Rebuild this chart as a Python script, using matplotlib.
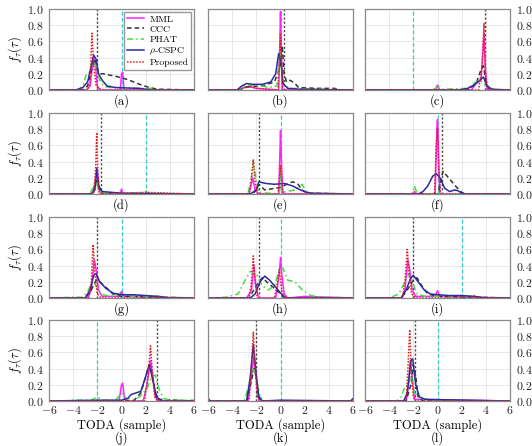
import matplotlib
matplotlib.use("Agg")
import matplotlib.pyplot as plt

plt.rcParams['font.family'] = 'serif'
plt.rcParams['font.serif'] = ['cmr10']
plt.rcParams['mathtext.fontset'] = 'cm'
plt.rcParams['axes.formatter.use_mathtext'] = True

# dados: pares (TODA, densidade) por metodo e painel
a_mml = [(-6,0),(-2.9,0),(-2.6,0.05),(-2.4,0.3),(-2.3,0.4),(-2.15,0.3),(-2.0,0.05),(-1.8,0),(-0.1,0),(0.0,0.2),(0.1,0.22),(0.2,0.02),(0.3,0),(6,0)]
a_ccc = [(-6,0),(-3.2,0),(-2.8,0.05),(-2.4,0.3),(-2.2,0.38),(-2.0,0.25),(-1.8,0.2),(-1.5,0.2),(-0.5,0.17),(0.5,0.13),(1.5,0.07),(2.3,0.03),(3,0.01),(6,0)]
a_phat = [(-6,0),(-3.6,0),(-3.2,0.05),(-2.9,0.2),(-2.6,0.22),(-2.35,0.38),(-2.15,0.3),(-1.9,0.15),(-1.5,0.05),(-1,0.03),(0,0.03),(1,0.02),(2.5,0.02),(3.0,0),(6,0)]
a_cspc = [(-6,0),(-3.8,0),(-3.2,0.03),(-2.8,0.1),(-2.5,0.3),(-2.3,0.43),(-2.1,0.38),(-1.9,0.2),(-1.6,0.12),(-1.2,0.05),(-0.5,0.03),(1.5,0.02),(2.5,0),(6,0)]
a_prop = [(-6,0),(-2.8,0),(-2.6,0.1),(-2.45,0.7),(-2.3,0.3),(-2.1,0.05),(-1.9,0.02),(-1.5,0),(6,0)]

b_mml = [(-6,0),(-3.5,0),(-3,0.03),(-2.5,0.04),(-2,0.02),(-0.15,0),(-0.05,0.6),(0.0,0.97),(0.05,0.6),(0.15,0),(6,0)]
b_ccc = [(-6,0),(-3.5,0),(-2.8,0.04),(-1.5,0.05),(-0.5,0.1),(0,0.3),(0.15,0.55),(0.3,0.2),(0.5,0.1),(0.8,0.12),(1.2,0.08),(1.5,0.03),(3,0.02),(4.5,0.02),(5,0),(6,0)]
b_phat = [(-6,0),(-3.5,0),(-3,0.05),(-2.5,0.06),(-2,0.04),(-1.5,0.05),(-1,0.03),(-0.3,0.05),(-0.05,0.5),(0.05,0.3),(0.3,0.05),(1,0.02),(6,0)]
b_cspc = [(-6,0),(-3.6,0),(-3.2,0.05),(-2.8,0.08),(-2.3,0.07),(-1.5,0.07),(-0.8,0.1),(-0.4,0.2),(-0.15,0.45),(0.05,0.35),(0.2,0.08),(0.6,0.02),(1.5,0.01),(6,0)]
b_prop = [(-6,0),(-3.5,0),(-3,0.03),(-2.5,0.04),(-2,0.02),(-0.2,0),(-0.05,0.5),(0.0,0.7),(0.1,0.3),(0.2,0),(6,0)]

c_mml = [(-6,0),(-0.2,0),(0,0.06),(0.2,0),(2.8,0),(3.2,0.08),(3.6,0.12),(3.85,0.7),(3.95,0.3),(4.1,0),(6,0)]
c_ccc = [(-6,0),(2.5,0),(3.2,0.08),(3.6,0.25),(3.8,0.3),(4.0,0.1),(4.3,0),(6,0)]
c_phat = [(-6,0),(-0.5,0),(0,0.03),(0.5,0.01),(2.5,0.02),(3.0,0.08),(3.4,0.12),(3.7,0.1),(4.0,0.05),(4.5,0.02),(5,0),(6,0)]
c_cspc = [(-6,0),(1.8,0),(2.5,0.02),(3.0,0.06),(3.5,0.12),(3.8,0.16),(4.1,0.05),(4.5,0.01),(6,0)]
c_prop = [(-6,0),(3.4,0),(3.7,0.3),(3.85,0.82),(3.95,0.2),(4.2,0),(6,0)]

d_mml = [(-6,0),(-2.4,0),(-2.1,0.2),(-2.0,0.3),(-1.85,0.05),(-1.6,0),(-0.1,0),(0,0.06),(0.1,0),(6,0)]
d_ccc = [(-6,0),(-2.4,0),(-2.1,0.15),(-1.95,0.2),(-1.8,0.05),(-1.5,0),(6,0)]
d_phat = [(-6,0),(-3,0),(-2.6,0.01),(-2.1,0.15),(-1.9,0.05),(-1.5,0.01),(1.8,0.01),(2,0.03),(2.2,0.01),(6,0)]
d_cspc = [(-6,0),(-2.5,0),(-2.2,0.05),(-2.05,0.32),(-1.9,0.1),(-1.6,0.03),(0,0.01),(6,0)]
d_prop = [(-6,0),(-2.3,0),(-2.15,0.3),(-2.05,0.76),(-1.95,0.2),(-1.85,0),(2,0.02),(6,0)]

e_mml = [(-6,0),(-2.6,0),(-2.3,0.2),(-2.1,0.05),(-1.8,0),(-0.15,0),(-0.05,0.5),(0,0.78),(0.1,0.3),(0.2,0),(6,0)]
e_ccc = [(-6,0),(-2.3,0),(-2.0,0.05),(-1.8,0.12),(-1.3,0.05),(-0.5,0.07),(0,0.08),(0.5,0.12),(1.0,0.15),(1.4,0.13),(1.8,0.05),(2.2,0.01),(6,0)]
e_phat = [(-6,0),(-2.7,0),(-2.4,0.2),(-2.25,0.4),(-2.05,0.2),(-1.8,0.02),(-0.1,0),(0,0.3),(0.1,0.02),(1.2,0.05),(1.8,0.12),(2.1,0.03),(2.5,0),(6,0)]
e_cspc = [(-6,0),(-2.5,0),(-2.0,0.05),(-1.8,0.15),(-1.2,0.13),(-0.5,0.12),(0.3,0.13),(1.0,0.1),(1.5,0.06),(2.0,0.03),(2.5,0.01),(6,0)]
e_prop = [(-6,0),(-2.6,0),(-2.4,0.2),(-2.25,0.43),(-2.1,0.15),(-1.9,0),(-0.2,0),(0,0.35),(0.15,0.05),(0.3,0),(6,0)]

f_mml = [(-6,0),(-2.1,0),(-1.9,0.03),(-1.7,0),(-0.2,0),(-0.05,0.8),(0,0.92),(0.1,0.4),(0.2,0),(6,0)]
f_ccc = [(-6,0),(0,0),(0.2,0.1),(0.45,0.28),(0.8,0.22),(1.2,0.15),(1.6,0.08),(2.0,0.02),(2.3,0),(6,0)]
f_phat = [(-6,0),(-2.2,0),(-2.0,0.05),(-1.9,0.1),(-1.8,0.05),(-1.6,0),(6,0)]
f_cspc = [(-6,0),(-1.6,0),(-1.2,0.03),(-0.8,0.1),(-0.4,0.22),(-0.1,0.25),(0.2,0.2),(0.6,0.07),(1.0,0.03),(1.4,0.05),(1.7,0.04),(2.0,0.01),(2.3,0),(6,0)]
f_prop = [(-6,0),(-0.25,0),(-0.1,0.6),(0,0.82),(0.1,0.3),(0.25,0),(6,0)]

g_mml = [(-6,0),(-2.8,0),(-2.5,0.1),(-2.25,0.47),(-2.1,0.35),(-1.9,0.1),(-1.6,0.02),(-0.2,0.02),(0,0.08),(0.2,0.02),(6,0)]
g_ccc = [(-6,0),(-3,0),(-2.5,0.1),(-2.1,0.22),(-1.8,0.2),(-1.2,0.12),(-0.7,0.05),(0,0.02),(1,0.02),(2,0.01),(6,0)]
g_phat = [(-6,0),(-4,0.01),(-3.2,0.01),(-2.8,0.08),(-2.4,0.2),(-2.1,0.15),(-1.7,0.05),(-1,0.02),(0,0.05),(1,0.02),(3,0.02),(4,0.01),(6,0)]
g_cspc = [(-6,0),(-3,0),(-2.6,0.1),(-2.3,0.28),(-2.1,0.3),(-1.8,0.2),(-1.3,0.12),(-0.7,0.06),(0,0.04),(1,0.04),(2,0.03),(3,0.02),(4,0),(6,0)]
g_prop = [(-6,0),(-2.7,0),(-2.5,0.2),(-2.35,0.66),(-2.2,0.3),(-2.0,0.05),(-1.7,0),(2.8,0),(3.0,0.03),(3.2,0),(6,0)]

h_mml = [(-6,0),(-2.8,0),(-2.4,0.1),(-2.2,0.4),(-2.05,0.15),(-1.8,0),(-0.4,0),(-0.1,0.3),(0.0,0.5),(0.1,0.3),(0.3,0.05),(0.6,0),(2,0.02),(6,0)]
h_ccc = [(-6,0),(-2.6,0),(-2.2,0.1),(-1.8,0.2),(-1.5,0.25),(-1.0,0.18),(-0.5,0.12),(0,0.05),(0.3,0),(6,0)]
h_phat = [(-6,0),(-4.5,0.01),(-3.5,0.05),(-3,0.2),(-2.5,0.33),(-2,0.3),(-1.5,0.15),(-1.0,0.1),(-0.5,0.15),(-0.1,0.35),(0.2,0.37),(0.6,0.22),(1.2,0.2),(1.8,0.1),(2.5,0.03),(3.5,0.01),(6,0)]
h_cspc = [(-6,0),(-2.5,0),(-2.1,0.05),(-1.7,0.2),(-1.3,0.27),(-0.9,0.22),(-0.5,0.15),(-0.1,0.08),(0.2,0.03),(0.5,0),(6,0)]
h_prop = [(-6,0),(-2.6,0),(-2.4,0.2),(-2.25,0.52),(-2.1,0.2),(-1.9,0),(-0.5,0),(-0.3,0.15),(-0.1,0.35),(0.1,0.1),(0.3,0),(6,0)]

i_mml = [(-6,0),(-3,0),(-2.7,0.1),(-2.45,0.47),(-2.3,0.35),(-2.1,0.1),(-1.8,0.02),(-0.2,0.02),(0,0.09),(0.2,0.02),(6,0)]
i_ccc = [(-6,0),(-3,0),(-2.5,0.1),(-2.0,0.22),(-1.7,0.25),(-1.3,0.15),(-0.8,0.05),(0,0.02),(6,0)]
i_phat = [(-6,0),(-4,0),(-3.2,0.05),(-2.7,0.2),(-2.4,0.3),(-2.1,0.2),(-1.7,0.05),(-1,0.02),(2,0.03),(3,0.02),(4,0),(6,0)]
i_cspc = [(-6,0),(-3,0),(-2.6,0.1),(-2.2,0.25),(-2.0,0.28),(-1.6,0.2),(-1.1,0.1),(-0.6,0.05),(0,0.04),(1,0.03),(2,0.03),(3,0.02),(4,0),(6,0)]
i_prop = [(-6,0),(-2.9,0),(-2.7,0.2),(-2.5,0.6),(-2.35,0.3),(-2.15,0.05),(-1.8,0),(2.7,0),(3,0.03),(3.3,0),(6,0)]

j_mml = [(-6,0),(-0.2,0),(0,0.2),(0.1,0.22),(0.25,0.02),(0.5,0),(1.8,0),(2.1,0.2),(2.4,0.5),(2.6,0.3),(2.8,0.05),(3.0,0),(6,0)]
j_ccc = [(-6,0),(1.0,0),(1.6,0.1),(2.0,0.3),(2.3,0.45),(2.5,0.35),(2.8,0.1),(3.1,0.02),(6,0)]
j_phat = [(-6,0),(-4.5,0),(-4,0.01),(-2.5,0.01),(-2,0.05),(-1.6,0.01),(-0.5,0.01),(0,0.1),(0.4,0.03),(1,0.02),(1.5,0.05),(2.1,0.15),(2.5,0.3),(2.8,0.32),(3.1,0.15),(3.5,0.03),(4,0.01),(6,0.01)]
j_cspc = [(-6,0),(-2,0.01),(0,0.01),(0.5,0.03),(0.8,0.08),(1.2,0.1),(1.6,0.12),(2.0,0.3),(2.3,0.45),(2.6,0.25),(2.9,0.05),(3.3,0),(6,0)]
j_prop = [(-6,0),(1.9,0),(2.2,0.3),(2.4,0.68),(2.55,0.35),(2.75,0.05),(3.0,0),(6,0)]

k_mml = [(-6,0),(-2.7,0),(-2.4,0.3),(-2.2,0.55),(-2.0,0.3),(-1.8,0),(6,0)]
k_ccc = [(-6,0),(-2.8,0),(-2.4,0.25),(-2.2,0.4),(-2.0,0.3),(-1.8,0.05),(-1.5,0),(6,0)]
k_phat = [(-6,0),(-3.0,0),(-2.6,0.2),(-2.3,0.4),(-2.0,0.3),(-1.7,0.05),(-1.4,0),(6,0)]
k_cspc = [(-6,0.03),(-5.8,0),(-2.8,0),(-2.5,0.3),(-2.25,0.7),(-2.0,0.3),(-1.8,0.05),(-1.5,0),(0,0.01),(5.8,0),(6,0.03)]
k_prop = [(-6,0),(-2.6,0),(-2.4,0.45),(-2.25,0.85),(-2.1,0.4),(-1.9,0.05),(-1.7,0),(6,0)]

l_mml = [(-6,0),(-2.6,0),(-2.4,0.2),(-2.25,0.5),(-2.1,0.3),(-1.9,0.02),(6,0)]
l_ccc = [(-6,0),(-2.6,0),(-2.2,0.2),(-2.0,0.45),(-1.8,0.3),(-1.6,0.05),(-1.2,0),(6,0)]
l_phat = [(-6,0),(-3.4,0),(-3.0,0.05),(-2.7,0.18),(-2.4,0.2),(-2.2,0.35),(-1.9,0.1),(-1.5,0.03),(0,0.01),(6,0)]
l_cspc = [(-6,0),(-2.8,0),(-2.5,0.1),(-2.2,0.5),(-2.05,0.52),(-1.8,0.2),(-1.5,0.05),(-1,0.02),(6,0)]
l_prop = [(-6,0),(-2.6,0),(-2.45,0.4),(-2.3,0.88),(-2.15,0.3),(-2.0,0.05),(-1.8,0),(6,0)]

# linhas verticais (referencias) por painel
linha_preta = [-2.0, 0.3, 3.9, -1.7, -1.8, 0.4, -2.0, -1.8, -2.0, 2.9, -2.0, -1.9]
linha_ciano = [0, 0, -2, 2, 0, 0, 0, 0, 2, -2, 0, 0]
letras = ["a", "b", "c", "d", "e", "f", "g", "h", "i", "j", "k", "l"]

metodos = ["MML", "CCC", "PHAT", r"$\rho$-CSPC", "Proposed"]
cores = ["#ff22ff", "#333333", "#44dd44", "#2a2aa0", "#e02020"]
estilos = ["-", (0, (3, 2)), (0, (4, 2, 1, 2)), "-", (0, (1, 1))]

curvas = [
    [a_mml, a_ccc, a_phat, a_cspc, a_prop],
    [b_mml, b_ccc, b_phat, b_cspc, b_prop],
    [c_mml, c_ccc, c_phat, c_cspc, c_prop],
    [d_mml, d_ccc, d_phat, d_cspc, d_prop],
    [e_mml, e_ccc, e_phat, e_cspc, e_prop],
    [f_mml, f_ccc, f_phat, f_cspc, f_prop],
    [g_mml, g_ccc, g_phat, g_cspc, g_prop],
    [h_mml, h_ccc, h_phat, h_cspc, h_prop],
    [i_mml, i_ccc, i_phat, i_cspc, i_prop],
    [j_mml, j_ccc, j_phat, j_cspc, j_prop],
    [k_mml, k_ccc, k_phat, k_cspc, k_prop],
    [l_mml, l_ccc, l_phat, l_cspc, l_prop],
]

W, H = 532, 446
fig = plt.figure(figsize=(W / 100, H / 100), dpi=100)

col_left = [49, 208, 365]
row_top = [9, 113, 217, 320]
largura, altura = 145, 81

for n in range(12):
    r, c = n // 3, n % 3
    ax = fig.add_axes([col_left[c] / W, 1 - (row_top[r] + altura) / H,
                       largura / W, altura / H])
    ax.set_xlim(-6, 6)
    ax.set_ylim(0, 1.0)
    ax.set_xticks(range(-6, 7, 2))
    ax.set_yticks([0, 0.2, 0.4, 0.6, 0.8, 1.0])
    ax.grid(True, color="#e4e4e4", linewidth=0.6)
    ax.set_axisbelow(True)
    for s in ax.spines.values():
        s.set_color("#888888")
        s.set_linewidth(0.9)
    ax.tick_params(length=0, labelsize=8.5, pad=2, colors="#222222")
    ax.tick_params(axis="y", pad=4)

    ax.axvline(linha_preta[n], color="#444444", linestyle=(0, (1.5, 1.5)), linewidth=1.0)
    ax.axvline(linha_ciano[n], color="#33cccc", linestyle=(0, (3, 2)), linewidth=0.9)

    for k in range(5):
        xs = [p[0] for p in curvas[n][k]]
        ys = [p[1] for p in curvas[n][k]]
        ax.plot(xs, ys, color=cores[k], linestyle=estilos[k], linewidth=1.1,
                label=metodos[k])

    if c == 0:
        ax.set_ylabel(r"$f_\tau(\tau)$", fontsize=9, labelpad=2)
    elif c == 2:
        ax.yaxis.tick_right()
    else:
        ax.set_yticklabels([])

    if r == 3:
        ax.set_xlabel("TODA (sample)", fontsize=9, labelpad=2)
        ax.annotate("(" + letras[n] + ")", xy=(0.5, 0), xycoords="axes fraction",
                    xytext=(0, -27), textcoords="offset points",
                    ha="center", va="center", fontsize=9)
    else:
        ax.set_xticklabels([])
        ax.annotate("(" + letras[n] + ")", xy=(0.5, 0), xycoords="axes fraction",
                    xytext=(0, -8), textcoords="offset points",
                    ha="center", va="center", fontsize=9)

    if n == 0:
        ax.legend(loc="upper right", fontsize=7, handlelength=1.8,
                  borderpad=0.3, labelspacing=0.15, handletextpad=0.5,
                  fancybox=False, edgecolor="#999999", framealpha=1,
                  borderaxespad=0.3)

fig.savefig("out.png", dpi=100)
